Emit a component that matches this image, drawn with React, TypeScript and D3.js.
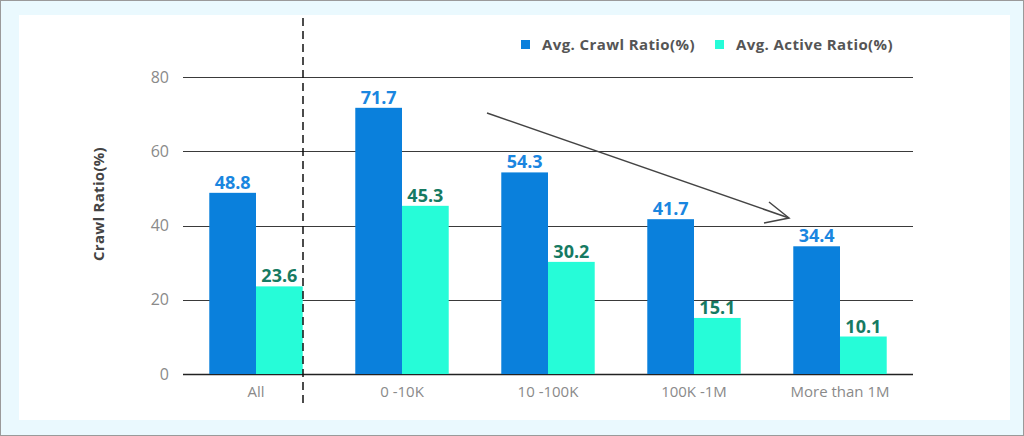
import React from "react";
import * as d3 from "d3";

const categories = ["All", "0 -10K", "10 -100K", "100K -1M", "More than 1M"];
const crawlRatio = [48.8, 71.7, 54.3, 41.7, 34.4];
const activeRatio = [23.6, 45.3, 30.2, 15.1, 10.1];
const yTicks = [0, 20, 40, 60, 80];
const seriesNames = ["Avg. Crawl Ratio(%)", "Avg. Active Ratio(%)"];
const seriesColors = ["#0a80dc", "#26fcd8"];
const labelColors = ["#1a86e0", "#167a62"];

const W = 1024;
const H = 436;
const FONT = "'Open Sans', Lato, sans-serif";

export default function App() {
  const x = d3.scaleBand<string>().domain(categories).range([183, 913]).paddingInner(0.36).paddingOuter(0.18);
  const y = d3.scaleLinear().domain([0, 80]).range([374, 77]);
  const bw = x.bandwidth() / 2;
  const series = [crawlRatio, activeRatio];

  const arrowStart: [number, number] = [487, 113];
  const arrowEnd: [number, number] = [789, 218];

  return (
    <div style={{ position: "absolute", left: 0, top: 0 }}>
      <svg width={W} height={H} style={{ display: "block" }}>
        <rect x={0} y={0} width={W} height={H} fill="#eaf9fe" />
        <rect x={0.5} y={0.5} width={W - 1} height={H - 1} fill="none" stroke="#9a9a9a" />
        <rect x={19} y={15} width={991} height={405} fill="#ffffff" />

        {/* gridlines and y ticks */}
        {yTicks.map((t) => (
          <g key={t}>
            <line x1={183} x2={913} y1={Math.round(y(t)) + 0.5} y2={Math.round(y(t)) + 0.5} stroke={t === 0 ? "#222" : "#3a3a3a"} strokeWidth={t === 0 ? 1.5 : 1} />
            <text x={169} y={y(t) + 5.5} textAnchor="end" fontFamily={FONT} fontSize={16} fill="#8a8a8a">
              {t}
            </text>
          </g>
        ))}

        {/* y axis title */}
        <text
          transform={`translate(104,204) rotate(-90)`}
          textAnchor="middle"
          fontFamily={FONT}
          fontSize={15}
          fontWeight={700}
          letterSpacing={0.3}
          fill="#444"
        >
          Crawl Ratio(%)
        </text>

        {/* bars */}
        {categories.map((c, i) => (
          <g key={c}>
            {series.map((s, j) => {
              const bx = (x(c) as number) + j * bw;
              return (
                <g key={j}>
                  <rect x={bx} y={y(s[i])} width={bw} height={y(0) - y(s[i])} fill={seriesColors[j]} />
                  <text
                    x={bx + bw / 2}
                    y={y(s[i]) - 4}
                    textAnchor="middle"
                    fontFamily={FONT}
                    fontSize={18}
                    fontWeight={700}
                    fill={labelColors[j]}
                  >
                    {s[i].toFixed(1)}
                  </text>
                </g>
              );
            })}
            <text
              x={(x(c) as number) + x.bandwidth() / 2}
              y={397}
              textAnchor="middle"
              fontFamily={FONT}
              fontSize={15}
              fill="#8a8a8a"
            >
              {c}
            </text>
          </g>
        ))}

        {/* dashed separator */}
        <line x1={303} x2={303} y1={18} y2={408} stroke="#111" strokeWidth={1.5} strokeDasharray="8,5" />

        {/* arrow */}
        <line x1={arrowStart[0]} y1={arrowStart[1]} x2={arrowEnd[0]} y2={arrowEnd[1]} stroke="#444" strokeWidth={1.5} />
        <polyline
          points={`769,202 ${arrowEnd[0]},${arrowEnd[1]} 764,223`}
          fill="none"
          stroke="#444"
          strokeWidth={1.5}
        />

        {/* legend */}
        {seriesNames.map((n, j) => {
          const lx = j === 0 ? 521 : 715;
          return (
            <g key={n}>
              <rect x={lx} y={40} width={9} height={9} fill={seriesColors[j]} />
              <text x={lx + 21} y={50} fontFamily={FONT} fontSize={15} fontWeight={700} letterSpacing={0.4} fill="#555">
                {n}
              </text>
            </g>
          );
        })}
      </svg>
    </div>
  );
}
